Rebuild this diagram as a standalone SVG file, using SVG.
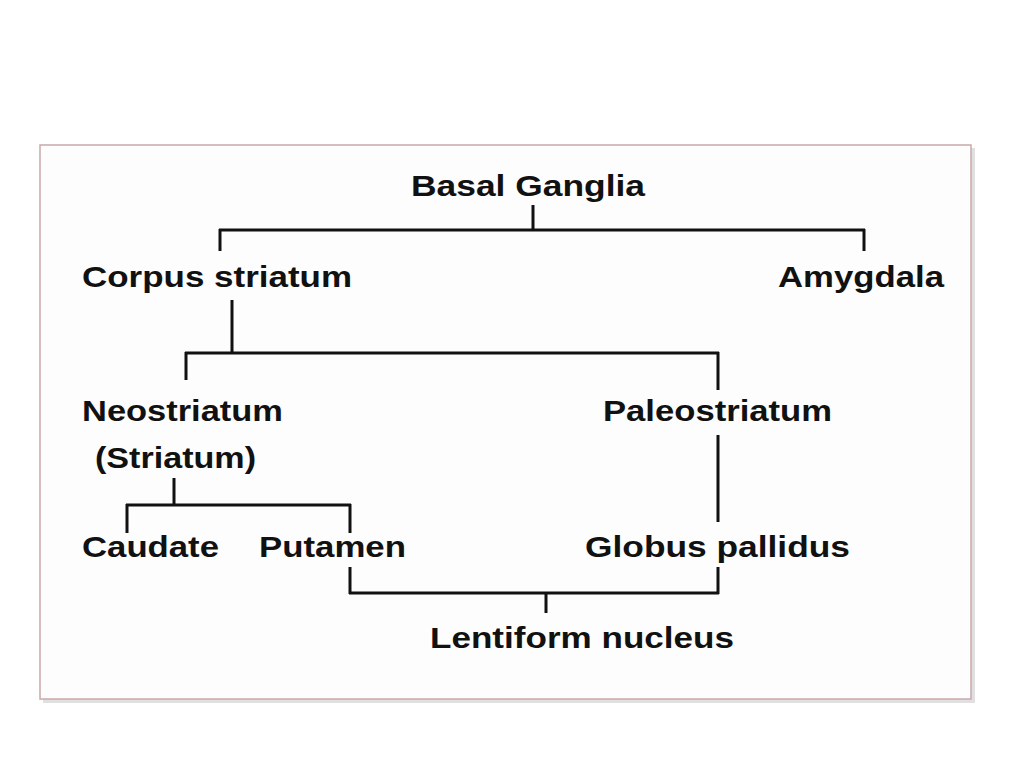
<svg xmlns="http://www.w3.org/2000/svg" width="1024" height="768" viewBox="0 0 1024 768">
<style>
text{font-family:"Liberation Sans",Arial,sans-serif;font-weight:bold;font-size:30px;fill:#111}
.c line{stroke:#111;stroke-width:3}
</style>
<rect width="1024" height="768" fill="#fff"/>
<rect x="43" y="148" width="932" height="555" fill="#ccc" opacity="0.6"/>
<rect x="40" y="145" width="931" height="554" fill="#fdfdfd" stroke="#c9a9a9" stroke-width="1.5"/>
<g class="c">
<line x1="533" y1="205" x2="533" y2="231"/>
<line x1="219" y1="230" x2="865" y2="230"/>
<line x1="220" y1="229" x2="220" y2="251"/>
<line x1="864" y1="229" x2="864" y2="251"/>
<line x1="232" y1="300" x2="232" y2="354"/>
<line x1="185" y1="353" x2="719" y2="353"/>
<line x1="186" y1="352" x2="186" y2="380"/>
<line x1="718" y1="352" x2="718" y2="390"/>
<line x1="718" y1="435" x2="718" y2="522"/>
<line x1="174" y1="478" x2="174" y2="506"/>
<line x1="126" y1="505" x2="351" y2="505"/>
<line x1="127" y1="504" x2="127" y2="533"/>
<line x1="350" y1="504" x2="350" y2="533"/>
<line x1="350" y1="567" x2="350" y2="594"/>
<line x1="349" y1="593" x2="719" y2="593"/>
<line x1="718" y1="567" x2="718" y2="594"/>
<line x1="546" y1="592" x2="546" y2="613"/>
</g>
<g id="basal"><text x="411" y="196" textLength="234" lengthAdjust="spacingAndGlyphs">Basal Ganglia</text></g>
<g id="corpus"><text x="82" y="287" textLength="270" lengthAdjust="spacingAndGlyphs">Corpus striatum</text></g>
<g id="amygdala"><text x="778" y="287" textLength="166" lengthAdjust="spacingAndGlyphs">Amygdala</text></g>
<g id="neo"><text x="82" y="421" textLength="201" lengthAdjust="spacingAndGlyphs">Neostriatum</text><text x="95" y="468" textLength="161" lengthAdjust="spacingAndGlyphs">(Striatum)</text></g>
<g id="paleo"><text x="603" y="421" textLength="229" lengthAdjust="spacingAndGlyphs">Paleostriatum</text></g>
<g id="caudate"><text x="82" y="557" textLength="137" lengthAdjust="spacingAndGlyphs">Caudate</text></g>
<g id="putamen"><text x="259" y="557" textLength="147" lengthAdjust="spacingAndGlyphs">Putamen</text></g>
<g id="globus"><text x="585" y="557" textLength="265" lengthAdjust="spacingAndGlyphs">Globus pallidus</text></g>
<g id="lentiform"><text x="430" y="648" textLength="304" lengthAdjust="spacingAndGlyphs">Lentiform nucleus</text></g>
</svg>
